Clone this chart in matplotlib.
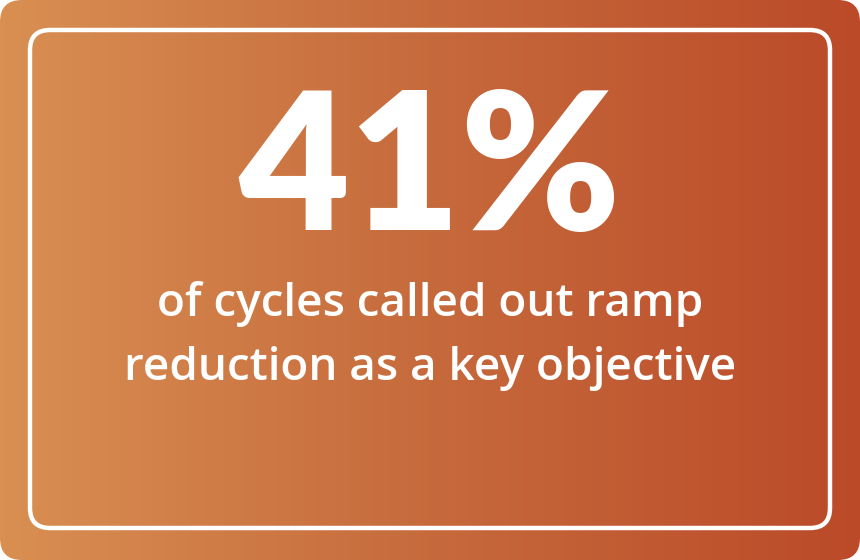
import numpy as np
import matplotlib
matplotlib.use("Agg")
import matplotlib.pyplot as plt
from matplotlib.patches import FancyBboxPatch
from matplotlib.colors import LinearSegmentedColormap

# card content
stat_value = "41%"
stat_lines = ["of cycles called out ramp", "reduction as a key objective"]
grad_colors = ["#D98F52", "#C66A3C", "#BB4A29"]

W, H = 860, 560
fig = plt.figure(figsize=(W / 100, H / 100), dpi=100)
ax = fig.add_axes([0, 0, 1, 1])
ax.set_xlim(0, W)
ax.set_ylim(H, 0)
ax.axis("off")

# rounded card with left->right gradient
card = FancyBboxPatch((0, 0), W, H, boxstyle="round,pad=0,rounding_size=22",
                      facecolor="none", edgecolor="none")
ax.add_patch(card)
cmap = LinearSegmentedColormap.from_list("card", grad_colors)
grad = np.linspace(0, 1, 256).reshape(1, -1)
im = ax.imshow(grad, cmap=cmap, extent=[0, W, H, 0], aspect="auto", interpolation="bicubic")
im.set_clip_path(card)

# inner white frame
frame = FancyBboxPatch((30, 30), 800, 498, boxstyle="round,pad=0,rounding_size=20",
                       facecolor="none", edgecolor="white", linewidth=3.2)
ax.add_patch(frame)

ax.text(W / 2, 230, stat_value, color="white", fontsize=138, fontfamily="Lato",
        fontweight="heavy", ha="center", va="baseline")
ax.text(W / 2, 316, stat_lines[0], color="white", fontsize=33, fontfamily="Open Sans",
        fontweight="semibold", ha="center", va="baseline")
ax.text(W / 2, 380, stat_lines[1], color="white", fontsize=33, fontfamily="Open Sans",
        fontweight="semibold", ha="center", va="baseline")

fig.savefig("out.png", dpi=100)
